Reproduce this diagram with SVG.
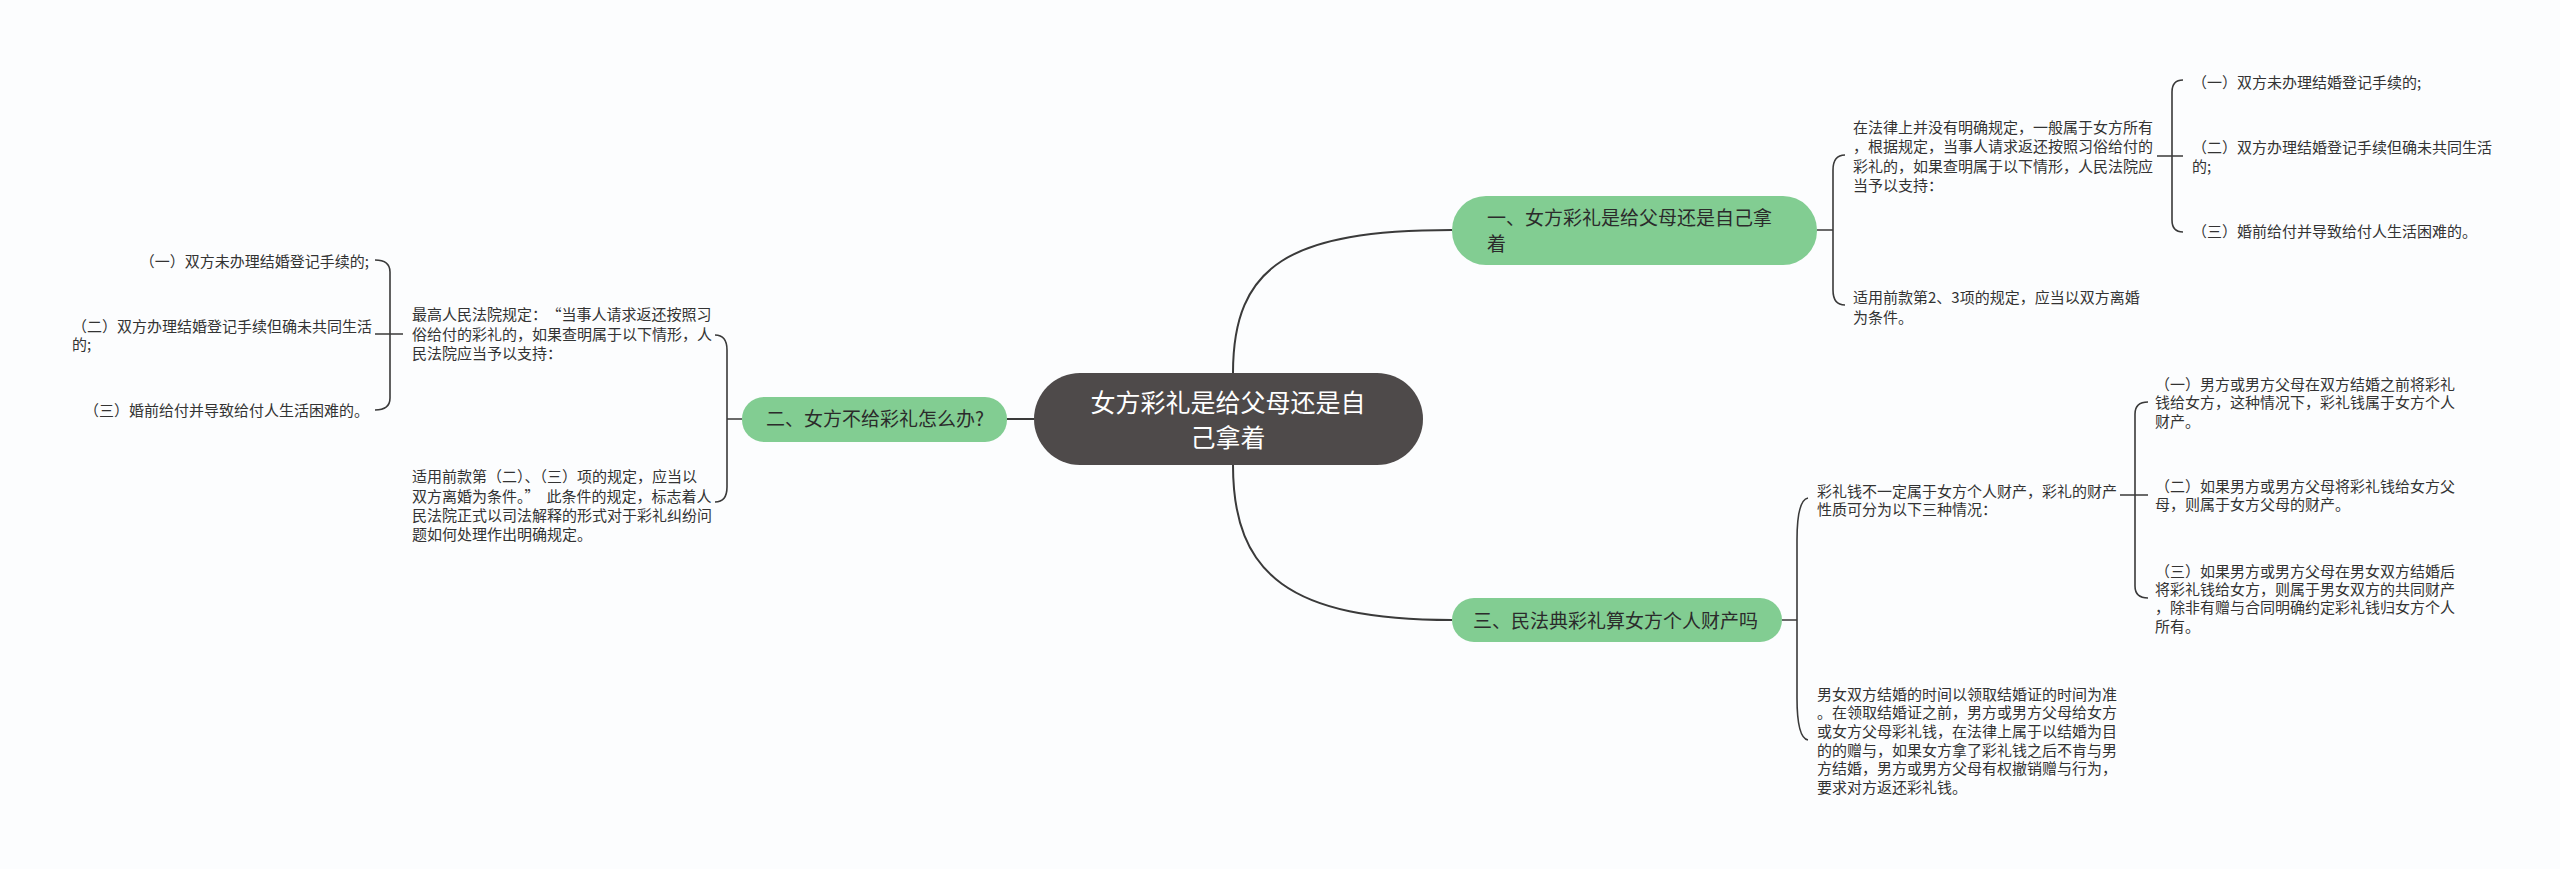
<svg xmlns="http://www.w3.org/2000/svg" width="2560" height="869" viewBox="0 0 2560 869">
<style>
text{font-family:"Noto Sans CJK SC","Noto Sans",sans-serif;fill:#333}
.s{font-size:15px}
.b{font-size:19px;fill:#2b2b2b}
.c{font-size:25px;fill:#fff}
.g{fill:#82cd92}
.ln{fill:none;stroke:#3a3a3a;stroke-width:2}
.br{fill:none;stroke:#3a3a3a;stroke-width:1.6}
</style>
<rect width="2560" height="869" fill="#fcfdfe"/>
<g id="connectors">
<path class="ln" d="M1233,373 C1233,265 1290,230 1452,230"/>
<path class="ln" d="M1233,465 C1233,575 1290,620 1452,620"/>
<path class="ln" d="M1034,419 L1007,419"/>
<path class="br" d="M1817,230 L1833,230 M1845,155 Q1833,155 1833,170 L1833,290 Q1833,305 1845,305"/>
<path class="br" d="M2157,156 L2183,156 M2183,80 Q2172,80 2172,92 L2172,220 Q2172,232 2183,232"/>
<path class="br" d="M742,419 L727,419 M715,335 Q727,335 727,350 L727,487 Q727,502 715,502"/>
<path class="br" d="M403,334 L375,334 M375,260 Q390,260 390,272 L390,398 Q390,410 375,410"/>
<path class="br" d="M1782,620 L1797,620 M1808,498 Q1797,500 1797,540 L1797,698 Q1797,738 1808,740"/>
<path class="br" d="M2120,495 L2148,495 M2148,402 Q2135,402 2135,414 L2135,586 Q2135,598 2148,598"/>
</g>
<g id="root">
<rect x="1034" y="373" width="389" height="92" rx="46" fill="#4e4a4a"/>
<text class="c" x="1228" y="412" text-anchor="middle">女方彩礼是给父母还是自</text>
<text class="c" x="1228" y="447" text-anchor="middle">己拿着</text>
</g>
<g id="b1">
<rect class="g" x="1452" y="196" width="365" height="69" rx="34"/>
<text class="b" x="1487" y="225">一、女方彩礼是给父母还是自己拿</text>
<text class="b" x="1487" y="251">着</text>
</g>
<g id="b1t1">
<text class="s" x="1853" y="133">在法律上并没有明确规定，一般属于女方所有</text>
<text class="s" x="1853" y="152">，根据规定，当事人请求返还按照习俗给付的</text>
<text class="s" x="1853" y="172">彩礼的，如果查明属于以下情形，人民法院应</text>
<text class="s" x="1853" y="191">当予以支持：</text>
</g>
<g id="b1t2">
<text class="s" x="1853" y="303">适用前款第2、3项的规定，应当以双方离婚</text>
<text class="s" x="1853" y="323">为条件。</text>
</g>
<g id="b1s1"><text class="s" x="2192" y="88">（一）双方未办理结婚登记手续的;</text></g>
<g id="b1s2">
<text class="s" x="2192" y="153">（二）双方办理结婚登记手续但确未共同生活</text>
<text class="s" x="2192" y="172">的;</text>
</g>
<g id="b1s3"><text class="s" x="2192" y="237">（三）婚前给付并导致给付人生活困难的。</text></g>
<g id="b2">
<rect class="g" x="742" y="397" width="265" height="45" rx="22"/>
<text class="b" x="875" y="426" text-anchor="middle">二、女方不给彩礼怎么办?</text>
</g>
<g id="b2t1">
<text class="s" x="412" y="320">最高人民法院规定：<tspan dx="7">“当事人请求返还按照习</tspan></text>
<text class="s" x="412" y="340">俗给付的彩礼的，如果查明属于以下情形，人</text>
<text class="s" x="412" y="359">民法院应当予以支持：</text>
</g>
<g id="b2t2">
<text class="s" x="412" y="482">适用前款第（二）、（三）项的规定，应当以</text>
<text class="s" x="412" y="502">双方离婚为条件。”<tspan dx="7">此条件的规定，标志着人</tspan></text>
<text class="s" x="412" y="521">民法院正式以司法解释的形式对于彩礼纠纷问</text>
<text class="s" x="412" y="540">题如何处理作出明确规定。</text>
</g>
<g id="b2s1"><text class="s" x="369" y="267" text-anchor="end">（一）双方未办理结婚登记手续的;</text></g>
<g id="b2s2">
<text class="s" x="72" y="332">（二）双方办理结婚登记手续但确未共同生活</text>
<text class="s" x="72" y="350">的;</text>
</g>
<g id="b2s3"><text class="s" x="369" y="416" text-anchor="end">（三）婚前给付并导致给付人生活困难的。</text></g>
<g id="b3">
<rect class="g" x="1452" y="598" width="330" height="44" rx="22"/>
<text class="b" x="1473" y="628">三、民法典彩礼算女方个人财产吗</text>
</g>
<g id="b3t1">
<text class="s" x="1817" y="497">彩礼钱不一定属于女方个人财产，彩礼的财产</text>
<text class="s" x="1817" y="515">性质可分为以下三种情况：</text>
</g>
<g id="b3t2">
<text class="s" x="1817" y="700">男女双方结婚的时间以领取结婚证的时间为准</text>
<text class="s" x="1817" y="718">。在领取结婚证之前，男方或男方父母给女方</text>
<text class="s" x="1817" y="737">或女方父母彩礼钱，在法律上属于以结婚为目</text>
<text class="s" x="1817" y="756">的的赠与，如果女方拿了彩礼钱之后不肯与男</text>
<text class="s" x="1817" y="774">方结婚，男方或男方父母有权撤销赠与行为，</text>
<text class="s" x="1817" y="793">要求对方返还彩礼钱。</text>
</g>
<g id="b3s1">
<text class="s" x="2155" y="390">（一）男方或男方父母在双方结婚之前将彩礼</text>
<text class="s" x="2155" y="408">钱给女方，这种情况下，彩礼钱属于女方个人</text>
<text class="s" x="2155" y="427">财产。</text>
</g>
<g id="b3s2">
<text class="s" x="2155" y="492">（二）如果男方或男方父母将彩礼钱给女方父</text>
<text class="s" x="2155" y="510">母，则属于女方父母的财产。</text>
</g>
<g id="b3s3">
<text class="s" x="2155" y="577">（三）如果男方或男方父母在男女双方结婚后</text>
<text class="s" x="2155" y="595">将彩礼钱给女方，则属于男女双方的共同财产</text>
<text class="s" x="2155" y="613">，除非有赠与合同明确约定彩礼钱归女方个人</text>
<text class="s" x="2155" y="632">所有。</text>
</g>
</svg>
